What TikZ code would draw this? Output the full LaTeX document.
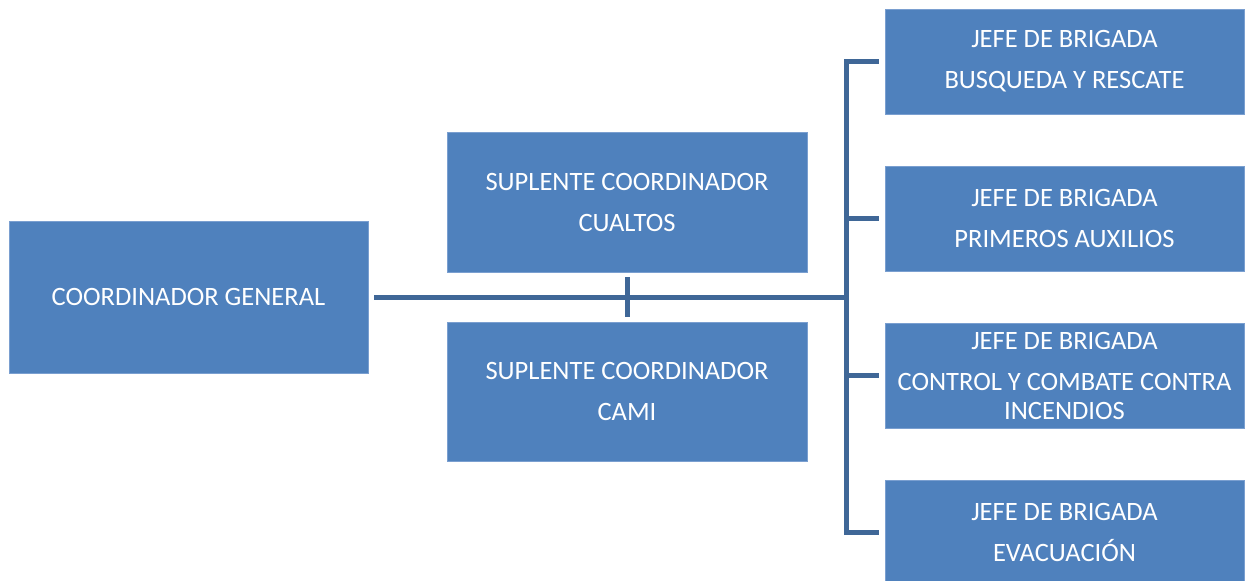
\documentclass[tikz,border=0pt]{standalone}
\usepackage{fontspec}
\setmainfont{Carlito}
\definecolor{boxblue}{HTML}{4F81BD}
\definecolor{boxedge}{HTML}{7A9FD0}
\definecolor{linkblue}{HTML}{3F6797}
\begin{document}
\begin{tikzpicture}[x=1pt,y=-1pt,
  box/.style={rectangle, fill=boxblue, draw=boxedge, line width=0.8pt, inner sep=0pt,
    text=white, align=center, font=\fontsize{26.5}{41}\selectfont},
  conn/.style={draw=linkblue, line width=5pt, line join=miter, line cap=butt}]
\useasboundingbox (0,0) rectangle (1245,581);
\node[box, minimum width=359pt, minimum height=152pt] (coord) at (188.5,297) {COORDINADOR GENERAL};
\node[box, minimum width=360pt, minimum height=140pt] (s1) at (627,202) {SUPLENTE COORDINADOR\\CUALTOS};
\node[box, minimum width=360pt, minimum height=139pt] (s2) at (627,391.5) {SUPLENTE COORDINADOR\\CAMI};
\node[box, minimum width=359pt, minimum height=105pt] (b1) at (1064.5,61.5) {JEFE DE BRIGADA\\BUSQUEDA Y RESCATE};
\node[box, minimum width=359pt, minimum height=105pt] (b2) at (1064.5,218.5) {JEFE DE BRIGADA\\PRIMEROS AUXILIOS};
\node[box, minimum width=359pt, minimum height=105pt] (b3) at (1064.5,375.5) {JEFE DE BRIGADA\\CONTROL Y COMBATE CONTRA\\[-12pt]INCENDIOS};
\node[box, minimum width=359pt, minimum height=104pt] (b4) at (1064.5,532) {JEFE DE BRIGADA\\EVACUACIÓN};
\coordinate (hub) at (846,297);
\draw[conn] ([xshift=6pt]coord.east) -- (hub);
\draw[conn] ([yshift=-5pt]s1.south) -- ([yshift=5pt]s2.north);
\draw[conn] ([xshift=-6pt]b1.west) -- (b1.west -| hub) -- (b4.west -| hub) -- ([xshift=-6pt]b4.west);
\draw[conn] ([xshift=-6pt]b2.west) -- (b2.west -| hub);
\draw[conn] ([xshift=-6pt]b3.west) -- (b3.west -| hub);
\end{tikzpicture}
\end{document}
